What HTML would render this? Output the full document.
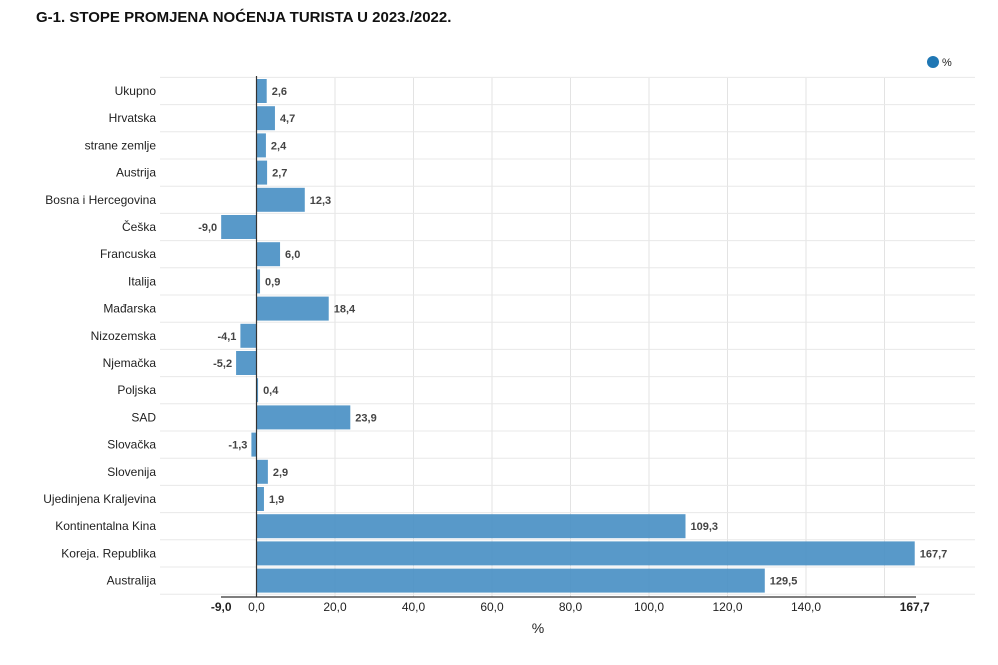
<!DOCTYPE html>
<html><head><meta charset="utf-8"><style>
body{margin:0;background:#fff;font-family:"Liberation Sans",sans-serif;}
</style></head><body>
<svg width="998" height="660" xmlns="http://www.w3.org/2000/svg" font-family="Liberation Sans, sans-serif">
<text x="36" y="22" font-size="15" font-weight="bold" fill="#111">G-1. STOPE PROMJENA NOĆENJA TURISTA U 2023./2022.</text>
<circle cx="933" cy="62" r="6" fill="#1f77b4"/>
<text x="942" y="66" font-size="11" fill="#222">%</text>
<g id="g"></g>
</svg>
<script>
(function(){
const d=[["Ukupno",2.6],["Hrvatska",4.7],["strane zemlje",2.4],["Austrija",2.7],["Bosna i Hercegovina",12.3],["Češka",-9.0],["Francuska",6.0],["Italija",0.9],["Mađarska",18.4],["Nizozemska",-4.1],["Njemačka",-5.2],["Poljska",0.4],["SAD",23.9],["Slovačka",-1.3],["Slovenija",2.9],["Ujedinjena Kraljevina",1.9],["Kontinentalna Kina",109.3],["Koreja. Republika",167.7],["Australija",129.5]];
const x0=256.5,s=3.925,T=77.4,h=27.2;let o="";
for(let v=20;v<=160;v+=20)o+=`<line x1="${x0+v*s}" y1="78" x2="${x0+v*s}" y2="597" stroke="#e3e3e3"/>`;
for(let i=0;i<=19;i++)o+=`<line x1="160" y1="${T+i*h}" x2="975" y2="${T+i*h}" stroke="#e8e8e8"/>`;
const f=v=>v.toFixed(1).replace(".",",");
d.forEach((r,i)=>{const cy=T+i*h+h/2,v=r[1];const a=x0+Math.min(0,v)*s,w=Math.abs(v)*s;
o+=`<rect x="${a}" y="${cy-12}" width="${w}" height="24" fill="#4a90c4" fill-opacity="0.92"/>`;
o+=`<text x="156" y="${cy+4}" font-size="12" text-anchor="end" fill="#222">${r[0]}</text>`;
if(v>=0)o+=`<text x="${x0+w+5}" y="${cy+4}" font-size="11" font-weight="bold" fill="#444">${f(v)}</text>`;
else o+=`<text x="${a-4}" y="${cy+4}" font-size="11" font-weight="bold" fill="#444" text-anchor="end">${f(v)}</text>`;});
o+=`<line x1="${x0}" y1="76" x2="${x0}" y2="597" stroke="#333" stroke-width="1.2"/>`;
o+=`<line x1="221" y1="597" x2="916" y2="597" stroke="#333" stroke-width="1.2"/>`;
[[-9,"-9,0",1],[0,"0,0",0],[20,"20,0",0],[40,"40,0",0],[60,"60,0",0],[80,"80,0",0],[100,"100,0",0],[120,"120,0",0],[140,"140,0",0],[167.7,"167,7",1]].forEach(t=>{
o+=`<text x="${x0+t[0]*s}" y="611" font-size="12" text-anchor="middle" fill="#222" ${t[2]?'font-weight="bold"':''}>${t[1]}</text>`;});
o+=`<text x="538" y="633" font-size="14" text-anchor="middle" fill="#222">%</text>`;
document.getElementById("g").innerHTML=o;
})();
</script>
</body></html>
